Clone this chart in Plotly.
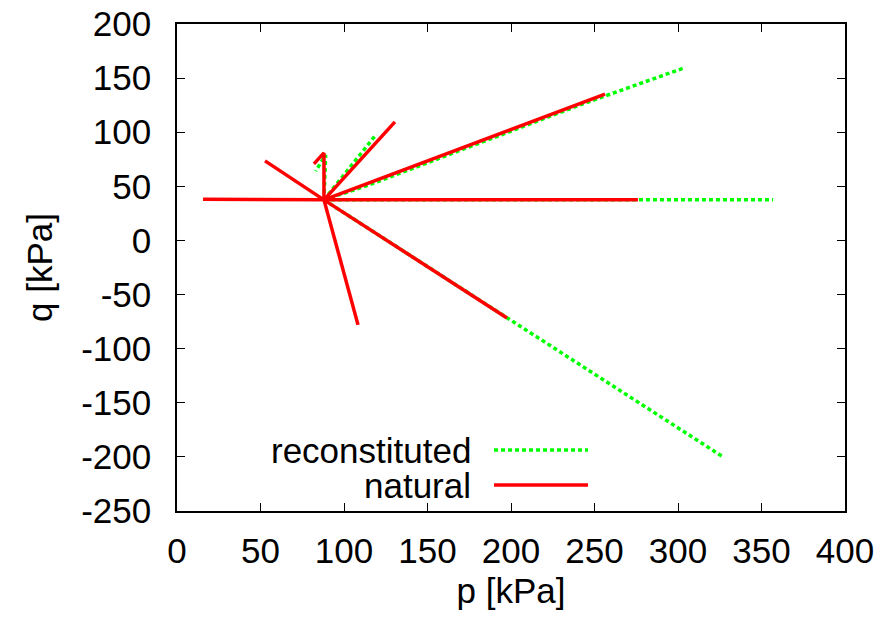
import plotly.graph_objects as go

# Stress paths (p, q) in kPa, all starting from the common initial state
nat_p = [88, 15.6, None, 88, 52.7, None, 88, 88, 82, None, 88, 130.5, None,
         88, 256.3, None, 88, 276, None, 88, 197.6, None, 88, 108.4]
nat_q = [37.5, 38.1, None, 37.5, 73.5, None, 37.5, 80.9, 70.7, None, 37.5, 109.5, None,
         37.5, 135.3, None, 37.5, 37.6, None, 37.5, -71.6, None, 37.5, -78]

rec_p = [88, 89, 83, None, 88, 118.6, None, 88, 115, 241.3, 303.6, None,
         88, 357, None, 88, 327]
rec_q = [37.5, 79, 64, None, 37.5, 96.6, None, 37.5, 51.3, 125.2, 159.4, None,
         37.5, 37.6, None, 37.5, -200]

x_ticks = [0, 50, 100, 150, 200, 250, 300, 350, 400]
y_ticks = [200, 150, 100, 50, 0, -50, -100, -150, -200, -250]

FONT = "Liberation Sans, Arial, sans-serif"
FS = 35

fig = go.Figure()
fig.add_trace(go.Scatter(x=rec_p, y=rec_q, mode="lines", name="reconstituted",
                         line=dict(color="#00ff00", width=3.5, dash="4px,3px"),
                         showlegend=False))
fig.add_trace(go.Scatter(x=nat_p, y=nat_q, mode="lines", name="natural",
                         line=dict(color="#ff0000", width=3.5),
                         showlegend=False))

axis_common = dict(showgrid=False, zeroline=False, showline=True, mirror="ticks",
                   linecolor="black", linewidth=1.5, ticks="inside", ticklen=8,
                   tickcolor="black", tickwidth=1.2, automargin=False,
                   tickfont=dict(family=FONT, size=FS, color="black"))

fig.update_xaxes(range=[0, 400], tickvals=x_ticks, ticktext=[str(v) for v in x_ticks],
                 title=dict(text="p [kPa]", font=dict(family=FONT, size=FS, color="black"),
                            standoff=10),
                 ticklabelstandoff=8, **axis_common)
fig.update_yaxes(range=[-250, 200], tickvals=y_ticks, ticktext=[str(v) for v in y_ticks],
                 title=dict(text="q [kPa]", font=dict(family=FONT, size=FS, color="black"),
                            standoff=18),
                 ticklabelstandoff=17, **axis_common)

# gnuplot-style legend: text on the left, line sample on the right
legend_items = [("reconstituted", "#00ff00", "4px,3px", 3.5, 0.1253),
                ("natural", "#ff0000", "solid", 3.5, 0.0534)]
for label, color, dash, width, yp in legend_items:
    fig.add_annotation(x=0.4416, y=yp, xref="paper", yref="paper", text=label,
                       showarrow=False, xanchor="right", yanchor="middle",
                       height=32, borderpad=0,
                       font=dict(family=FONT, size=FS, color="black"))
    fig.add_shape(type="line", xref="paper", yref="paper", x0=0.4746, x1=0.6153,
                  y0=yp, y1=yp, line=dict(color=color, width=width, dash=dash))

fig.update_layout(width=876, height=618, plot_bgcolor="white", paper_bgcolor="white",
                  margin=dict(l=177, r=31, t=24, b=107),
                  font=dict(family=FONT, size=FS, color="black"))

fig.write_html("out.html")
